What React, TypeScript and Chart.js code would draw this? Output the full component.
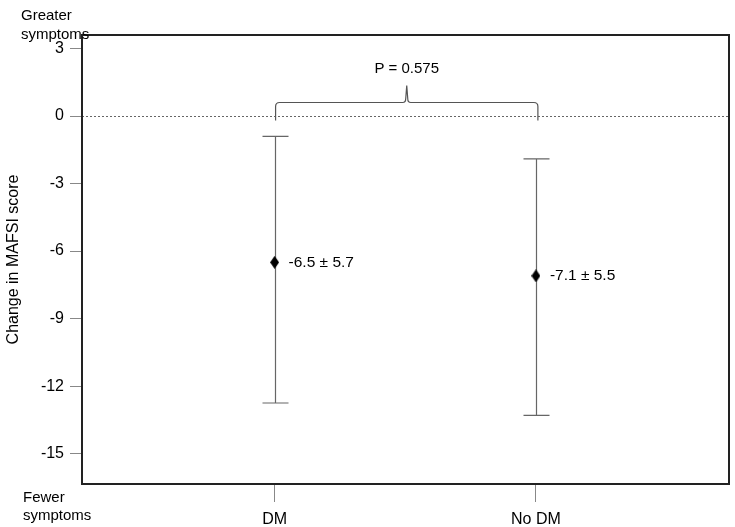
import React, { useEffect, useRef } from 'react';
import { Chart, registerables } from 'chart.js';
Chart.register(...registerables);

const categories = ['DM', 'No DM'];
const categoryPositions = [1, 2];
const means = [-6.5, -7.1];
const sds = [5.7, 5.5];
const upperBounds = [-0.9, -1.9];
const lowerBounds = [-12.75, -13.3];
const yTicks = [3, 0, -3, -6, -9, -12, -15];
const pValueLabel = 'P = 0.575';
const yTitle = 'Change in MAFSI score';
const topNote = ['Greater', 'symptoms'];
const bottomNote = ['Fewer', 'symptoms'];

const FONT = '"Liberation Sans", Arial, Helvetica, sans-serif';

function makeDiamond(): HTMLCanvasElement {
  const c = document.createElement('canvas');
  c.width = 9;
  c.height = 13;
  const g = c.getContext('2d')!;
  g.fillStyle = '#000';
  g.beginPath();
  g.moveTo(4.5, 0);
  g.lineTo(9, 6.5);
  g.lineTo(4.5, 13);
  g.lineTo(0, 6.5);
  g.closePath();
  g.fill();
  return c;
}

const decorPlugin = {
  id: 'decor',
  beforeDatasetsDraw(chart: any) {
    const { ctx, chartArea, scales } = chart;
    const xs = scales.x;
    const ys = scales.y;
    ctx.save();
    // dotted zero line
    ctx.strokeStyle = '#666';
    ctx.lineWidth = 1;
    ctx.setLineDash([2, 2]);
    const y0 = Math.round(ys.getPixelForValue(0)) + 0.5;
    ctx.beginPath();
    ctx.moveTo(chartArea.left, y0);
    ctx.lineTo(chartArea.right, y0);
    ctx.stroke();
    ctx.setLineDash([]);
    // error bars
    ctx.strokeStyle = '#666';
    ctx.lineWidth = 1.2;
    for (let i = 0; i < categories.length; i++) {
      const x = Math.round(xs.getPixelForValue(categoryPositions[i])) + 0.5;
      const yt = ys.getPixelForValue(upperBounds[i]);
      const yb = ys.getPixelForValue(lowerBounds[i]);
      ctx.beginPath();
      ctx.moveTo(x, yt);
      ctx.lineTo(x, yb);
      ctx.moveTo(x - 13, yt);
      ctx.lineTo(x + 13, yt);
      ctx.moveTo(x - 13, yb);
      ctx.lineTo(x + 13, yb);
      ctx.stroke();
    }
    // brace
    const xl = xs.getPixelForValue(categoryPositions[0]) + 1;
    const xr = xs.getPixelForValue(categoryPositions[1]) + 2;
    const xm = (xl + xr) / 2;
    const yEnd = y0 + 4;
    const yH = y0 - 14;
    const yTip = y0 - 31;
    ctx.strokeStyle = '#555';
    ctx.lineWidth = 1.2;
    ctx.beginPath();
    ctx.moveTo(xl, yEnd);
    ctx.lineTo(xl, yH + 4);
    ctx.quadraticCurveTo(xl, yH, xl + 4, yH);
    ctx.lineTo(xm - 4, yH);
    ctx.quadraticCurveTo(xm - 1, yH, xm - 1, yH - 4);
    ctx.lineTo(xm, yTip);
    ctx.lineTo(xm + 1, yH - 4);
    ctx.quadraticCurveTo(xm + 1, yH, xm + 4, yH);
    ctx.lineTo(xr - 4, yH);
    ctx.quadraticCurveTo(xr, yH, xr, yH + 4);
    ctx.lineTo(xr, yEnd);
    ctx.stroke();
    ctx.fillStyle = '#000';
    ctx.font = `15px ${FONT}`;
    ctx.textAlign = 'center';
    ctx.textBaseline = 'middle';
    ctx.fillText(pValueLabel, xm, y0 - 48);
    ctx.restore();
  },
  afterDatasetsDraw(chart: any) {
    const { ctx, chartArea, scales } = chart;
    const xs = scales.x;
    const ys = scales.y;
    ctx.save();
    // frame
    ctx.strokeStyle = '#222';
    ctx.lineWidth = 2;
    ctx.strokeRect(chartArea.left, chartArea.top, chartArea.right - chartArea.left, chartArea.bottom - chartArea.top);
    // value labels
    ctx.fillStyle = '#000';
    ctx.font = `15.5px ${FONT}`;
    ctx.textAlign = 'left';
    ctx.textBaseline = 'middle';
    for (let i = 0; i < categories.length; i++) {
      const x = xs.getPixelForValue(categoryPositions[i]);
      const y = ys.getPixelForValue(means[i]);
      ctx.fillText(`${means[i].toFixed(1)} \u00b1 ${sds[i].toFixed(1)}`, x + 14, y);
    }
    // notes
    ctx.font = `15px ${FONT}`;
    ctx.fillText(topNote[0], 21, 16);
    ctx.fillText(topNote[1], 21, 35);
    ctx.fillText(bottomNote[0], 23, 498);
    ctx.fillText(bottomNote[1], 23, 516);
    ctx.restore();
  },
};

export default function App() {
  const ref = useRef<HTMLCanvasElement>(null);
  useEffect(() => {
    if (!ref.current) return;
    const chart = new Chart(ref.current, {
      type: 'scatter',
      data: {
        datasets: [
          {
            data: categoryPositions.map((x, i) => ({ x, y: means[i] })),
            pointStyle: makeDiamond() as any,
            pointRadius: 5,
            backgroundColor: '#000',
            borderColor: '#000',
          },
        ],
      },
      options: {
        animation: false,
        responsive: true,
        maintainAspectRatio: false,
        layout: { padding: { top: 35, right: 0, left: 0, bottom: 0 } },
        plugins: { legend: { display: false }, tooltip: { enabled: false } },
        scales: {
          x: {
            type: 'linear',
            min: 0.263,
            max: 2.739,
            afterBuildTicks: (s: any) => {
              s.ticks = categoryPositions.map((v) => ({ value: v }));
            },
            afterFit: (s: any) => {
              s.height = 43;
              s.paddingLeft = 0;
              s.paddingRight = 0;
            },
            grid: { drawOnChartArea: false, tickLength: 18, color: '#888', lineWidth: 1 },
            border: { display: false },
            ticks: {
              padding: 8,
              color: '#000',
              font: { size: 16, family: FONT },
              callback: (v: any) => categories[categoryPositions.indexOf(Number(v))] ?? '',
            },
          },
          y: {
            type: 'linear',
            min: -16.35,
            max: 3.6,
            afterBuildTicks: (s: any) => {
              s.ticks = yTicks.map((v) => ({ value: v }));
            },
            afterFit: (s: any) => {
              s.width = 82;
            },
            grid: { drawOnChartArea: false, tickLength: 12, color: '#888', lineWidth: 1 },
            border: { display: false },
            title: { display: true, text: yTitle, color: '#000', font: { size: 16, family: FONT }, padding: { top: 4, bottom: 0 } },
            ticks: {
              padding: 6,
              color: '#000',
              font: { size: 16, family: FONT },
              callback: (v: any) => String(v),
            },
          },
        },
      },
      plugins: [decorPlugin],
    });
    return () => chart.destroy();
  }, []);
  return (
    <div style={{ position: 'fixed', left: 0, top: 0, width: 735, height: 527, background: '#fff' }}>
      <canvas ref={ref} />
    </div>
  );
}
